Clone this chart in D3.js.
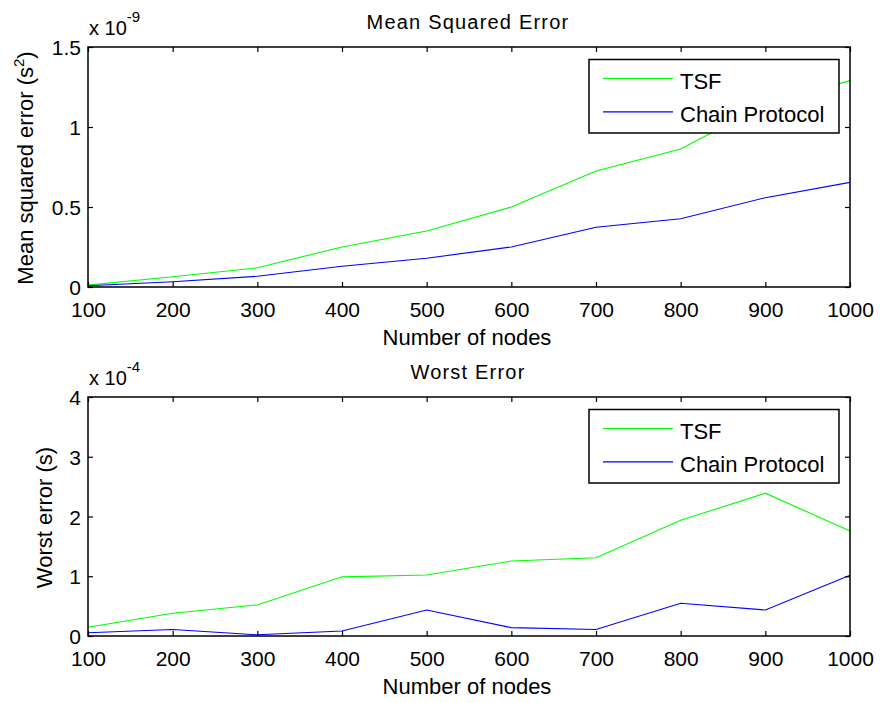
<!DOCTYPE html>
<html><head><meta charset="utf-8">
<script src="https://cdn.jsdelivr.net/npm/d3@7"></script>
<style>
html,body{margin:0;padding:0;background:#fff;}
svg{display:block;font-family:"Liberation Sans",Arial,sans-serif;}
</style></head>
<body>
<script>
// Data (values in units of the axis multiplier)
const nodes = [100,200,300,400,500,600,700,800,900,1000];
const mseTSF   = [0.012,0.064,0.12,0.25,0.35,0.50,0.725,0.862,1.14,1.29];   // x 1e-9
const mseChain = [0.008,0.033,0.067,0.13,0.18,0.25,0.373,0.427,0.558,0.654]; // x 1e-9
const worstTSF   = [0.146,0.38,0.52,0.99,1.02,1.255,1.31,1.936,2.39,1.757];  // x 1e-4
const worstChain = [0.055,0.11,0.02,0.083,0.435,0.14,0.11,0.547,0.435,1.015]; // x 1e-4
const seriesNames = ["TSF","Chain Protocol"];
const seriesColors = ["#00ff00","#0000ff"];
const xTicks = nodes;
const mseTicks = [0,0.5,1,1.5];
const worstTicks = [0,1,2,3,4];

const W=882,H=703;
const svg=d3.select("body").append("svg").attr("width",W).attr("height",H);

function panel(cfg){
  const g=svg.append("g");
  const x=d3.scaleLinear().domain([100,1000]).range([88,850]);
  const y=d3.scaleLinear().domain(cfg.ydom).range([cfg.bottom,cfg.top]);
  const line=d3.line().x((d,i)=>x(nodes[i])).y(d=>y(d));
  cfg.series.forEach((s,k)=>{
    g.append("path").attr("d",line(s)).attr("fill","none")
     .attr("stroke",seriesColors[k]).attr("stroke-width",1.1);
  });
  g.append("rect").attr("x",88).attr("y",cfg.top).attr("width",762).attr("height",cfg.bottom-cfg.top)
   .attr("fill","none").attr("stroke","#000").attr("stroke-width",1.5);
  const tl=5;
  const xb=g.append("g").attr("transform",`translate(0,${cfg.bottom})`)
    .call(d3.axisBottom(x).tickValues(xTicks).tickSizeInner(-tl).tickSizeOuter(0).tickPadding(0).tickFormat(d3.format("d")));
  xb.select(".domain").remove();
  xb.selectAll("line").attr("stroke","#000").attr("stroke-width",1.2);
  xb.selectAll("text").attr("y",30).attr("dy",0).attr("font-size",21).attr("fill","#000")
    .style("font-family","'Liberation Sans',Arial,sans-serif");
  const xt=g.append("g").attr("transform",`translate(0,${cfg.top})`)
    .call(d3.axisTop(x).tickValues(xTicks).tickSizeInner(-tl).tickSizeOuter(0).tickFormat(""));
  xt.select(".domain").remove();
  xt.selectAll("line").attr("stroke","#000").attr("stroke-width",1.2);
  const yl=g.append("g").attr("transform","translate(88,0)")
    .call(d3.axisLeft(y).tickValues(cfg.yticks).tickSizeInner(-tl).tickSizeOuter(0).tickFormat(d3.format("")));
  yl.select(".domain").remove();
  yl.selectAll("line").attr("stroke","#000").attr("stroke-width",1.2);
  yl.selectAll("text").attr("x",-7).attr("dy","0.36em").attr("font-size",21).attr("fill","#000")
    .style("font-family","'Liberation Sans',Arial,sans-serif");
  const yr=g.append("g").attr("transform","translate(850,0)")
    .call(d3.axisRight(y).tickValues(cfg.yticks).tickSizeInner(-tl).tickSizeOuter(0).tickFormat(""));
  yr.select(".domain").remove();
  yr.selectAll("line").attr("stroke","#000").attr("stroke-width",1.2);
  const m=g.append("text").attr("x",89).attr("y",cfg.top-12).attr("font-size",20).attr("fill","#000");
  m.append("tspan").text("x 10");
  m.append("tspan").attr("dy",-13).attr("font-size",15).text(cfg.exp);
  g.append("text").attr("x",468).attr("y",cfg.top-18).attr("text-anchor","middle")
   .attr("font-size",20).attr("letter-spacing",1.2).attr("fill","#000").text(cfg.title);
  g.append("text").attr("x",467).attr("y",cfg.bottom+58).attr("text-anchor","middle")
   .attr("font-size",22).attr("fill","#000").text("Number of nodes");
  const yt=g.append("text").attr("transform",`translate(${cfg.ylx},${(cfg.top+cfg.bottom)/2+1}) rotate(-90)`)
   .attr("text-anchor","middle").attr("font-size",22).attr("fill","#000");
  yt.append("tspan").text(cfg.ylabel);
  if(cfg.ysup){
    yt.append("tspan").attr("dy",-9).attr("font-size",15).text(cfg.ysup);
    yt.append("tspan").attr("dy",9).text(")");
  }
  const lx=589, ly=cfg.top+12.5, lw=250, lh=73.5;
  const lg=g.append("g");
  lg.append("rect").attr("x",lx).attr("y",ly).attr("width",lw).attr("height",lh)
    .attr("fill","#fff").attr("stroke","#000").attr("stroke-width",1.5);
  seriesNames.forEach((n,k)=>{
    const yy=ly+19+k*33.4;
    lg.append("line").attr("x1",603).attr("x2",673).attr("y1",yy).attr("y2",yy)
      .attr("stroke",seriesColors[k]).attr("stroke-width",1.1);
    lg.append("text").attr("x",680).attr("y",yy+10.5).attr("font-size",22).attr("fill","#000").text(n);
  });
}

panel({top:47,bottom:287,ydom:[0,1.5],yticks:mseTicks,series:[mseTSF,mseChain],
  exp:"-9",title:"Mean Squared Error",ylabel:"Mean squared error (s",ysup:"2",ylx:33});
panel({top:397,bottom:636,ydom:[0,4],yticks:worstTicks,series:[worstTSF,worstChain],
  exp:"-4",title:"Worst Error",ylabel:"Worst error (s)",ysup:null,ylx:52});
</script>
</body></html>
